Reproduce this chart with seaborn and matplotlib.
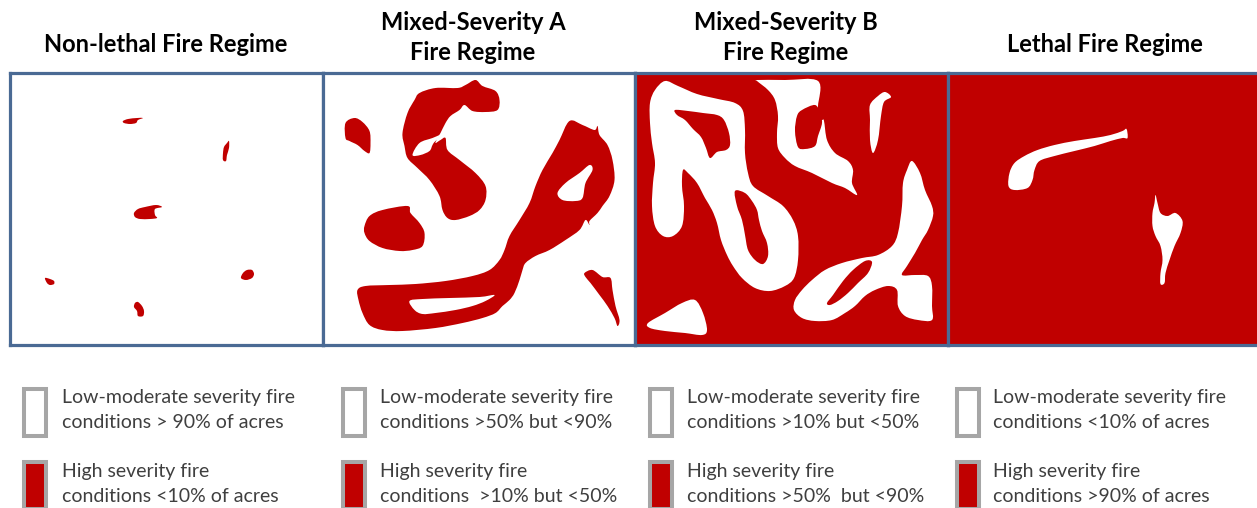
import numpy as np
import matplotlib
matplotlib.use("Agg")
import matplotlib.pyplot as plt
import seaborn as sns
from matplotlib.path import Path
from matplotlib.patches import PathPatch, Rectangle

# figure size in pixels
W, H = 1257, 508

RED = "#c00000"
BORDER = "#4a6a94"
BOX_EDGE = "#a6a6a6"
TEXT = "#3f3f3f"

titles = ["Non-lethal Fire Regime",
          "Mixed-Severity A\nFire Regime",
          "Mixed-Severity B\nFire Regime",
          "Lethal Fire Regime"]

low_labels = ["Low-moderate severity fire\nconditions > 90% of acres",
              "Low-moderate severity fire\nconditions >50% but <90%",
              "Low-moderate severity fire\nconditions >10% but <50%",
              "Low-moderate severity fire\nconditions <10% of acres"]

high_labels = ["High severity fire\nconditions <10% of acres",
               "High severity fire\nconditions  >10% but <50%",
               "High severity fire\nconditions >50%  but <90%",
               "High severity fire\nconditions >90% of acres"]

# background of each square: True = high severity (red)
red_background = [False, False, True, True]

# patch outlines, panel pixel coords (x right, y down)
# panel 1: high severity spots
p1_spots = [
    [(113, 48), (118, 46), (127, 45), (133, 45), (128, 47), (126, 50), (120, 51), (114, 50)],
    [(214, 74), (217, 70), (219, 68), (219, 75), (217, 82), (216, 88), (213, 87), (213, 80)],
    [(124, 140), (128, 136), (135, 134), (146, 132), (152, 134), (145, 136), (145, 142),
     (147, 145), (140, 146), (130, 146), (125, 144)],
    [(35, 205), (40, 206), (44, 208), (44, 211), (40, 212), (37, 210)],
    [(231, 205), (233, 200), (237, 197), (242, 197), (244, 201), (242, 205), (236, 207)],
    [(125, 230), (128, 229), (132, 233), (134, 238), (133, 243), (128, 243), (127, 238), (124, 234)],
]
p1_holes = []

# panel 2: high severity patches and unburned holes inside them
p2_spots = [
    [(23, 50), (32, 45), (40, 49), (47, 58), (48, 70), (47, 80), (42, 78), (35, 72), (27, 68), (23, 65)],
    [(97, 20), (113, 15), (135, 15), (143, 12), (153, 7), (160, 13), (173, 18), (177, 27), (175, 37),
     (163, 39), (150, 38), (142, 32), (137, 37), (128, 43), (123, 50), (118, 60), (115, 65), (113, 70),
     (118, 67), (123, 65), (125, 77), (137, 87), (153, 100), (163, 113), (163, 127), (157, 137),
     (147, 143), (133, 147), (125, 145), (120, 137), (117, 123), (107, 107), (95, 95), (85, 85),
     (82, 73), (80, 60), (85, 40), (92, 27)],
    [(42, 153), (47, 143), (60, 137), (85, 133), (88, 140), (97, 150), (102, 160), (100, 173),
     (90, 177), (77, 178), (60, 175), (47, 168), (42, 160)],
    [(35, 217), (43, 213), (67, 212), (93, 211), (123, 208), (150, 203), (167, 197), (177, 187),
     (182, 177), (187, 163), (197, 147), (207, 130), (213, 113), (220, 97), (230, 80), (237, 67),
     (247, 48), (260, 52), (272, 57), (275, 53), (277, 62), (285, 72), (290, 87), (292, 107),
     (287, 123), (280, 133), (275, 140), (267, 148), (267, 152), (263, 147), (257, 157), (243, 167),
     (227, 177), (213, 183), (203, 190), (200, 197), (197, 207), (192, 220), (187, 227), (180, 233),
     (173, 240), (160, 245), (140, 250), (113, 255), (80, 258), (60, 257), (47, 252), (40, 240),
     (36, 227)],
    [(262, 200), (270, 197), (280, 204), (288, 205), (290, 217), (293, 233), (297, 247), (295, 253),
     (292, 245), (285, 233), (277, 222), (268, 210), (263, 204)],
]
p2_holes = [
    [(90, 82), (97, 70), (110, 65), (117, 62), (124, 59), (113, 68), (110, 72), (107, 78), (98, 82)],
    [(235, 120), (243, 110), (257, 100), (267, 92), (270, 97), (263, 110), (260, 125), (253, 128), (240, 127)],
    [(87, 228), (100, 226), (127, 225), (157, 224), (172, 222), (163, 228), (150, 233), (133, 237),
     (113, 240), (100, 241), (92, 237)],
]

# panel 3: unburned patches on red, with red pockets inside
p3_spots = [
    [(15, 30), (20, 17), (30, 8), (43, 13), (62, 21), (83, 26), (100, 30), (108, 38), (110, 57),
     (110, 80), (113, 100), (118, 113), (133, 123), (148, 133), (158, 147), (163, 163), (163, 187),
     (159, 205), (150, 213), (135, 218), (120, 215), (107, 205), (98, 193), (92, 182), (86, 167),
     (82, 150), (77, 137), (70, 125), (62, 110), (53, 100), (48, 97), (47, 113), (49, 133), (47, 153),
     (38, 163), (28, 163), (20, 153), (17, 133), (18, 110), (20, 90), (17, 70), (15, 50)],
    [(122, 7), (150, 7), (183, 8), (183, 33), (182, 47), (187, 47), (189, 48), (192, 67), (200, 80),
     (213, 88), (218, 97), (217, 110), (222, 122), (210, 115), (197, 110), (177, 100), (160, 93),
     (150, 85), (143, 75), (142, 60), (143, 43), (140, 27), (133, 17), (122, 8)],
    [(235, 32), (243, 23), (250, 19), (256, 24), (249, 29), (246, 43), (243, 67), (238, 80), (235, 67), (235, 47)],
    [(277, 88), (285, 100), (290, 117), (297, 133), (298, 143), (293, 157), (287, 167), (280, 180),
     (272, 193), (267, 202), (280, 202), (293, 203), (297, 213), (297, 233), (297, 247), (283, 247),
     (270, 243), (263, 233), (262, 217), (253, 213), (240, 217), (230, 223), (220, 233), (210, 240),
     (197, 247), (180, 248), (167, 245), (159, 237), (160, 227), (167, 217), (177, 207), (190, 197),
     (207, 190), (227, 185), (243, 182), (257, 173), (263, 160), (267, 133), (268, 110), (272, 97)],
    [(13, 250), (30, 240), (47, 230), (60, 227), (68, 240), (72, 257), (67, 262), (50, 260), (30, 258), (15, 255)],
]
p3_holes = [
    [(40, 37), (53, 38), (68, 40), (82, 42), (89, 47), (94, 60), (95, 72), (91, 77), (82, 79), (75, 85),
     (71, 75), (66, 64), (58, 56), (50, 47), (42, 42)],
    [(100, 118), (110, 120), (117, 128), (122, 137), (124, 147), (127, 158), (132, 170), (133, 183),
     (128, 191), (120, 187), (113, 177), (110, 162), (107, 147), (102, 133)],
    [(160, 58), (162, 43), (167, 37), (180, 32), (185, 40), (187, 50), (183, 63), (180, 73), (170, 76), (163, 74)],
    [(192, 230), (198, 222), (208, 208), (218, 197), (230, 188), (237, 189), (233, 200), (223, 210),
     (213, 220), (203, 228), (195, 232)],
]

# panel 4: two small unburned patches
p4_spots = [
    [(62, 100), (67, 90), (77, 83), (90, 77), (107, 72), (127, 68), (147, 65), (163, 62), (175, 58),
     (179, 56), (180, 65), (175, 65), (163, 68), (147, 73), (127, 78), (107, 83), (92, 88), (87, 97),
     (85, 107), (80, 115), (67, 117), (61, 113)],
    [(208, 122), (210, 130), (213, 140), (220, 143), (228, 140), (235, 148), (233, 160), (227, 173),
     (222, 187), (218, 200), (217, 210), (213, 211), (213, 200), (215, 187), (213, 173), (208, 163),
     (205, 153), (205, 140), (207, 130)],
]
p4_holes = []

spots = [p1_spots, p2_spots, p3_spots, p4_spots]
holes = [p1_holes, p2_holes, p3_holes, p4_holes]


def blob(pts):
    # smooth closed outline through the points (Catmull-Rom as cubic Beziers)
    pts = np.asarray(pts, float)
    n = len(pts)
    verts = [pts[0]]
    codes = [Path.MOVETO]
    for k in range(n):
        p0, p1, p2, p3 = pts[k - 1], pts[k], pts[(k + 1) % n], pts[(k + 2) % n]
        verts += [p1 + (p2 - p0) / 6, p2 - (p3 - p1) / 6, p2]
        codes += [Path.CURVE4] * 3
    return Path(verts, codes)


sns.set_theme(style="white")
plt.rcParams["font.family"] = ["Lato", "DejaVu Sans"]

fig = plt.figure(figsize=(W / 100, H / 100), dpi=100)

left0, top0, pw, ph = 10, 73, 312.5, 272
for i in range(4):
    x0 = left0 + i * pw
    ax = fig.add_axes([x0 / W, 1 - (top0 + ph) / H, pw / W, ph / H])
    ax.set_xlim(0, pw)
    ax.set_ylim(ph, 0)
    ax.set_xticks([])
    ax.set_yticks([])
    base = RED if red_background[i] else "white"
    other = "white" if red_background[i] else RED
    ax.set_facecolor(base)
    for pts in spots[i]:
        ax.add_patch(PathPatch(blob(pts), facecolor=other, edgecolor="none"))
    for pts in holes[i]:
        ax.add_patch(PathPatch(blob(pts), facecolor=base, edgecolor="none"))
    for s in ax.spines.values():
        s.set_visible(True)
        s.set_color(BORDER)
        s.set_linewidth(2.3)

# overlay for titles and legend, figure pixel coords
ov = fig.add_axes([0, 0, 1, 1], zorder=-1)
ov.set_xlim(0, W)
ov.set_ylim(H, 0)
ov.axis("off")

box_x = [22, 341, 648, 955]
text_x = [62, 380, 687, 993]
title_x = [166, 473, 786, 1105]

for i in range(4):
    lines = titles[i].split("\n")
    ys = [44] if len(lines) == 1 else [22, 52]
    for txt, y in zip(lines, ys):
        ov.text(title_x[i], y, txt, ha="center", va="center", fontsize=17,
                fontweight="bold", color="black")

    bx = box_x[i]
    ov.add_patch(Rectangle((bx + 2, 389), 22, 47, facecolor="white",
                           edgecolor=BOX_EDGE, linewidth=2.9))
    ov.add_patch(Rectangle((bx + 2, 462), 22, 47, facecolor=RED,
                           edgecolor=BOX_EDGE, linewidth=2.9))
    for txt, y in zip(low_labels[i].split("\n"), [397, 422]):
        ov.text(text_x[i], y, txt, ha="left", va="center", fontsize=14, color=TEXT)
    for txt, y in zip(high_labels[i].split("\n"), [472, 497]):
        ov.text(text_x[i], y, txt, ha="left", va="center", fontsize=14, color=TEXT)

fig.savefig("out.png", dpi=100, facecolor="white")
